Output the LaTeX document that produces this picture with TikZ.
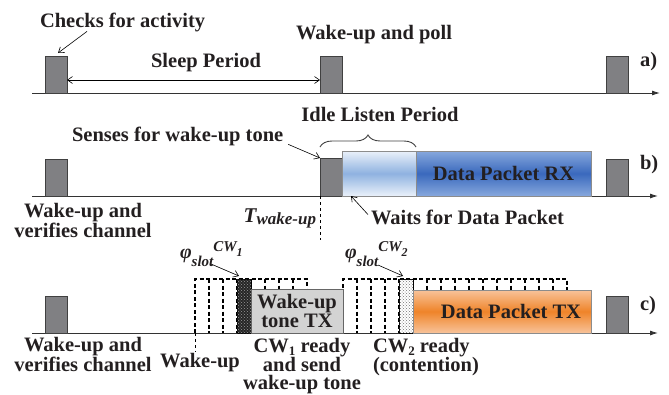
\documentclass[tikz,border=0pt]{standalone}
\usepackage{fontspec}
\setmainfont{Liberation Serif}
\usetikzlibrary{arrows.meta,patterns,decorations.pathreplacing}
\definecolor{ink}{HTML}{231F20}
\definecolor{pulsegray}{HTML}{808083}
\definecolor{tonegray}{HTML}{D3D3D3}
\definecolor{idletop}{HTML}{EAF1FA}
\definecolor{idlemid}{HTML}{8FB2E0}
\definecolor{rxtop}{HTML}{87A8DD}
\definecolor{rxmid}{HTML}{3A69BD}
\definecolor{txtop}{HTML}{F8C39A}
\definecolor{txmid}{HTML}{EF8429}
\begin{document}
\begin{tikzpicture}[x=1pt, y=-1pt,
  every node/.append style={text=ink, inner sep=0pt, outer sep=0pt},
  lbl/.style={font=\fontsize{20.5}{17.5}\selectfont\bfseries},
  pulse/.style={draw=black!75, fill=pulsegray, line width=0.8pt, anchor=south west, minimum width=22pt, minimum height=37pt},
  packet/.style={draw=black!45, line width=0.6pt, anchor=south west, lbl, align=center},
  slotmark/.style={draw=black, line width=0.8pt, anchor=south west, minimum width=14pt, minimum height=54pt},
  timeline/.style={draw=black!80, line width=0.9pt, -{Latex[length=8pt,width=5pt]}},
  callout/.style={line width=0.6pt, -{Straight Barb[length=5pt,width=7pt]}},
  span/.style={line width=0.6pt, {Straight Barb[length=5pt,width=7pt]}-{Straight Barb[length=5pt,width=7pt]}},
  slots/.style={dash pattern=on 4pt off 2.5pt, line width=1.1pt},
  phisize/.style={font=\fontsize{20}{20}\selectfont\bfseries\itshape}]
  \useasboundingbox (0,0) rectangle (669,394);

  % a)
  \draw[timeline] (32,93) -- (660,93);
  \node[pulse] (a1) at (45,93) {};
  \node[pulse] (a2) at (320,93) {};
  \node[pulse] (a3) at (606,93) {};
  \node[lbl, anchor=base west] (check) at (40,27) {Checks for activity};
  \node[lbl, anchor=base west] (poll) at (296,39) {Wake-up and poll};
  \node[lbl, anchor=base] (sleep) at (206,67) {Sleep Period};
  \node[lbl, anchor=base west] (rowa) at (640,66) {a)};
  \draw[callout] ([xshift=47pt]check.south west) -- ([xshift=13pt,yshift=3pt]a1.north west);
  \draw[span] ([yshift=-5.5pt]a1.east) -- ([yshift=-5.5pt]a2.west);

  % b)
  \draw[timeline] (32,196) -- (658,196);
  \node[pulse] (b1) at (45,196) {};
  \node[pulse, minimum height=38pt] (b2) at (320,196) {};
  \node[packet, minimum width=74pt, minimum height=45pt, top color=idletop, bottom color=idletop, middle color=idlemid] (idle) at (342,196) {};
  \node[packet, minimum width=175pt, minimum height=45pt, top color=rxtop, bottom color=rxtop, middle color=rxmid] (rx) at (416,196) {Data Packet RX};
  \node[pulse] (b3) at (606,196) {};
  \draw[decorate, decoration={brace, amplitude=12pt}, line width=0.9pt, draw=black!75] ([yshift=4pt]b2.west |- idle.north) -- ([yshift=4pt]idle.north east);
  \node[lbl, anchor=base] (idlelbl) at (380,121) {Idle Listen Period};
  \node[lbl, anchor=base west] (sense) at (72,141) {Senses for wake-up tone};
  \draw[callout] ([xshift=5pt,yshift=1pt]sense.south east) -- (b2.north west);
  \coordinate (twake) at (320,240);
  \draw[dashed, line width=0.9pt] (b2.south west) -- (twake);
  \node[anchor=base east, phisize] (tlbl) at (316,222) {\fontsize{21}{21}\selectfont T\raisebox{-2pt}{\fontsize{17}{17}\selectfont wake-up}};
  \node[lbl, anchor=base west] (wait) at (371,224) {Waits for Data Packet};
  \draw[callout] ([xshift=-3pt,yshift=-5pt]wait.north west) -- ([xshift=9pt]idle.south west);
  \node[lbl, anchor=north, align=center] (b1lbl) at (83,203) {Wake-up and\\verifies channel};
  \node[lbl, anchor=base west] (rowb) at (640,169) {b)};

  % c)
  \draw[timeline] (32,333) -- (658,333);
  \node[pulse] (c1) at (45,333) {};
  \draw[slots] (195,333) -- (195,279) -- (307,279) -- (307,333);
  \foreach \k in {1,...,7} \draw[slots] ({195+14*\k},279) -- ++(0,54);
  \draw[slots] (343,333) -- (343,279) -- (567,279) -- (567,333);
  \foreach \k in {1,...,15} \draw[slots] ({343+14*\k},279) -- ++(0,54);
  \node[slotmark, fill=black!85, postaction={pattern=crosshatch dots, pattern color=black!40}] (cw1) at (237,333) {};
  \node[packet, minimum width=92pt, minimum height=44pt, fill=tonegray, draw=black!60] (tone) at (251,333) {Wake-up\\tone TX};
  \node[slotmark, fill=white, postaction={pattern=crosshatch dots, pattern color=black!55}] (cw2) at (399,333) {};
  \node[packet, minimum width=178pt, minimum height=43pt, top color=txtop, bottom color=txtop, middle color=txmid] (tx) at (413,333) {};
  \node[lbl] (txlbl) at ([xshift=9pt]tx.center) {Data Packet TX};
  \node[pulse] (c3) at (606,333) {};
  \coordinate (wkc) at (195,352);
  \draw[dashed, line width=0.9pt] (195,333) -- (wkc);
  \node[lbl, anchor=base] (wklbl) at (200,367) {Wake-up};
  \node[lbl, anchor=north, align=center] (c1lbl) at (83,337) {Wake-up and\\verifies channel};
  \node[phisize, anchor=base west] (phi1) at (180,258) {φ\raisebox{-8pt}{\fontsize{15}{15}\selectfont slot}\raisebox{7pt}{\fontsize{15}{15}\selectfont CW\raisebox{-5pt}{\fontsize{12}{12}\selectfont 1}}};
  \node[phisize, anchor=base west] (phi2) at (345,258) {φ\raisebox{-8pt}{\fontsize{15}{15}\selectfont slot}\raisebox{7pt}{\fontsize{15}{15}\selectfont CW\raisebox{-5pt}{\fontsize{12}{12}\selectfont 2}}};
  \draw[callout] ([xshift=31pt,yshift=-6pt]phi1.base west) -- ([xshift=2pt,yshift=3pt]cw1.north west);
  \draw[callout] ([xshift=33pt,yshift=-7pt]phi2.base west) -- ([xshift=4pt,yshift=3pt]cw2.north west);
  \node[lbl, anchor=north, align=center] (cw1lbl) at (302,338) {CW\raisebox{-3pt}{\fontsize{13}{13}\selectfont 1} ready\\and send\\wake-up tone};
  \node[lbl, anchor=north west, align=left] (cw2lbl) at (373,338) {CW\raisebox{-3pt}{\fontsize{13}{13}\selectfont 2} ready\\(contention)};
  \node[lbl, anchor=base west] (rowc) at (640,310) {c)};
\end{tikzpicture}
\end{document}
